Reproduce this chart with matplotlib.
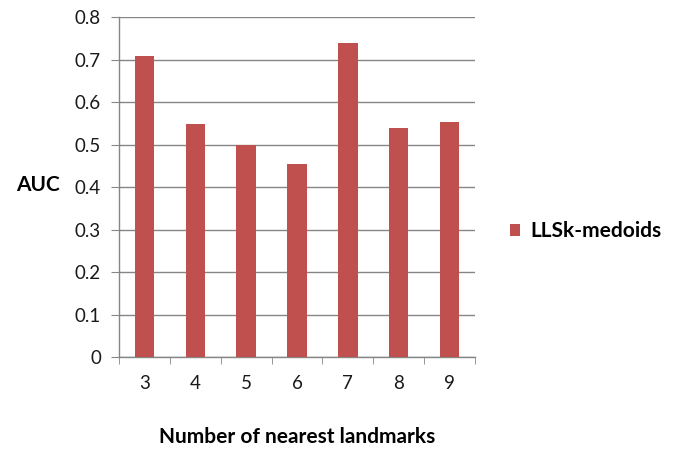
import numpy as np
import matplotlib
matplotlib.use('Agg')
import matplotlib.pyplot as plt

# data
neighbours = [3, 4, 5, 6, 7, 8, 9]
auc = [0.71, 0.55, 0.50, 0.455, 0.74, 0.54, 0.553]
series_name = 'LLSk-medoids'
yticks = [0, 0.1, 0.2, 0.3, 0.4, 0.5, 0.6, 0.7, 0.8]

bar_color = '#C0504D'
grid_color = '#868686'

plt.rcParams['font.family'] = ['Lato', 'DejaVu Sans']

fig = plt.figure(figsize=(6.75, 4.5), dpi=100)
ax = fig.add_axes([0.1763, 0.206, 0.5274, 0.7556])

ax.bar(neighbours, auc, width=0.38, color=bar_color, label=series_name, zorder=3)

ax.set_xlim(2.5, 9.5)
ax.set_ylim(0, 0.8)
ax.set_yticks(yticks)
ax.set_yticklabels(['0'] + ['{:.1f}'.format(v) for v in yticks[1:]])
ax.set_xticks(neighbours)
ax.set_xticks(np.arange(2.5, 10, 1), minor=True)

ax.yaxis.grid(True, color=grid_color, linewidth=1, zorder=0)
ax.tick_params(axis='y', length=6, color=grid_color, labelsize=13.5, pad=7,
               labelcolor='#1a1a1a')
ax.tick_params(axis='x', which='major', length=0, labelsize=13.5, pad=13,
               labelcolor='#1a1a1a')
ax.tick_params(axis='x', which='minor', length=5, color=grid_color)

for side in ['top', 'right']:
    ax.spines[side].set_visible(False)
for side in ['left', 'bottom']:
    ax.spines[side].set_color(grid_color)
    ax.spines[side].set_linewidth(1)

ax.set_xlabel('Number of nearest landmarks', fontsize=15, fontweight='bold',
              labelpad=25)
ax.set_ylabel('AUC', fontsize=15, fontweight='bold', rotation=0,
              labelpad=0)
ax.yaxis.set_label_coords(-0.228, 0.476)

ax.legend(loc='center left', bbox_to_anchor=(1.045, 0.37), frameon=False,
          prop={'size': 15, 'weight': 'bold'}, handlelength=0.5,
          handleheight=0.5, handletextpad=0.5)

fig.savefig('out.png', dpi=100)
